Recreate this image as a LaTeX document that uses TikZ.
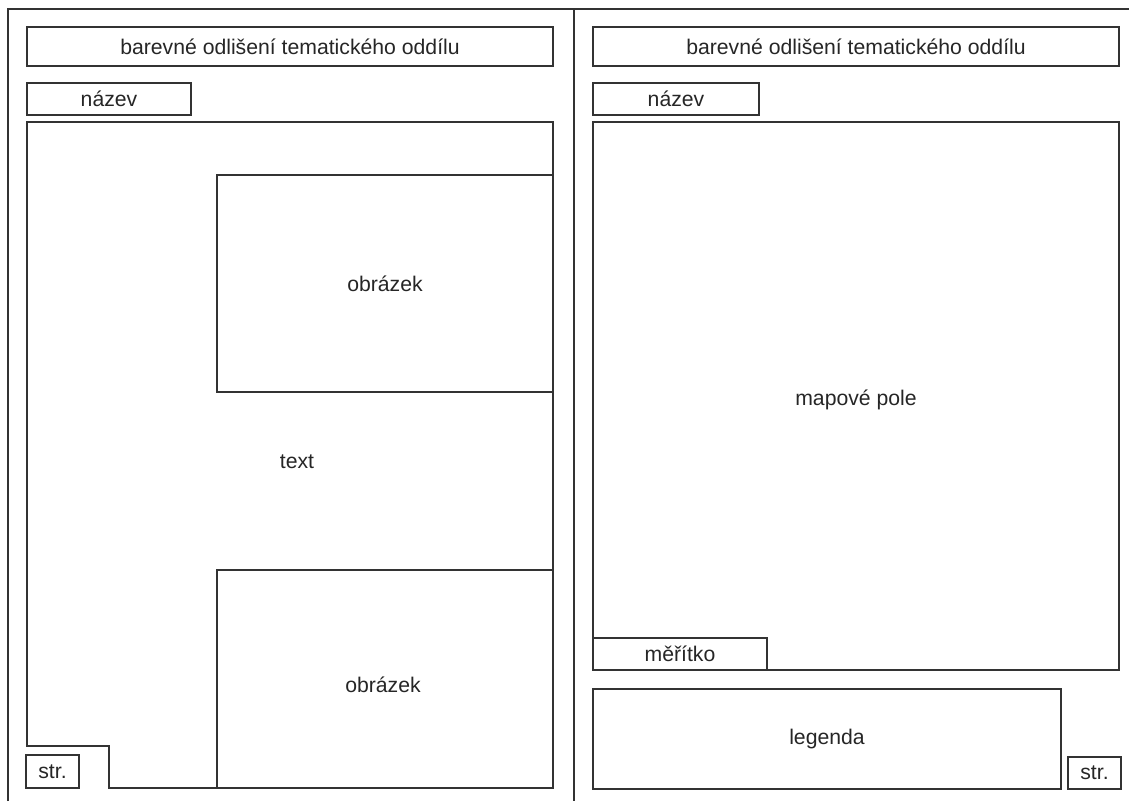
\documentclass[tikz,border=0pt]{standalone}
\usepackage{fontspec}
\setmainfont{Liberation Sans}

\begin{document}
\begin{tikzpicture}[x=1pt,y=-1pt,
	frame/.style={line width=1.5pt,draw=black!80},
	box/.style={frame,rectangle,inner sep=0pt,outer sep=0pt,anchor=north west,
		font=\fontsize{21.2}{25}\selectfont,text=black!85},
	lbl/.style={font=\fontsize{21.2}{25}\selectfont,text=black!85}]

	% page size
	\fill[white] (0,0) rectangle (1129,801);
	\useasboundingbox (0,0) rectangle (1129,801);

	% outer frame and divider
	\draw[frame] (8,801) -- (8,9) -- (1129,9);
	\draw[frame] (574,9) -- (574,801);

	% left page
	\node[box,minimum width=526pt,minimum height=39pt] (lhead) at (27,27) {barevné odlišení tematického oddílu};
	\node[box,minimum width=164pt,minimum height=32pt] (lname) at (27,83) {název};
	\draw[frame] (27,122) -- (553,122) -- (553,788) -- (109,788) -- (109,746) -- (27,746) -- cycle;
	\node[box,minimum width=336pt,minimum height=217pt] (limg1) at (217,175) {obrázek};
	\node[box,minimum width=336pt,minimum height=218pt] (limg2) at (217,570) {};
	\node[lbl] (limg2txt) at (383,685) {obrázek};
	\node[lbl] (ltext) at (297,462) {text};
	\node[box,minimum width=53pt,minimum height=33pt] (lpage) at (26,755) {str.};

	% right page
	\node[box,minimum width=526pt,minimum height=39pt] (rhead) at (593,27) {barevné odlišení tematického oddílu};
	\node[box,minimum width=166pt,minimum height=32pt] (rname) at (593,83) {název};
	\node[box,minimum width=526pt,minimum height=548pt] (rmap) at (593,122) {};
	\node[lbl] (rmaptxt) at (856,400) {mapové pole};
	\node[box,minimum width=174pt,minimum height=32pt] (rscale) at (593,638) {měřítko};
	\node[box,minimum width=468pt,minimum height=100pt] (rlegend) at (593,689) {legenda};
	\node[box,minimum width=53pt,minimum height=32pt] (rpage) at (1068,757) {str.};

\end{tikzpicture}
\end{document}
